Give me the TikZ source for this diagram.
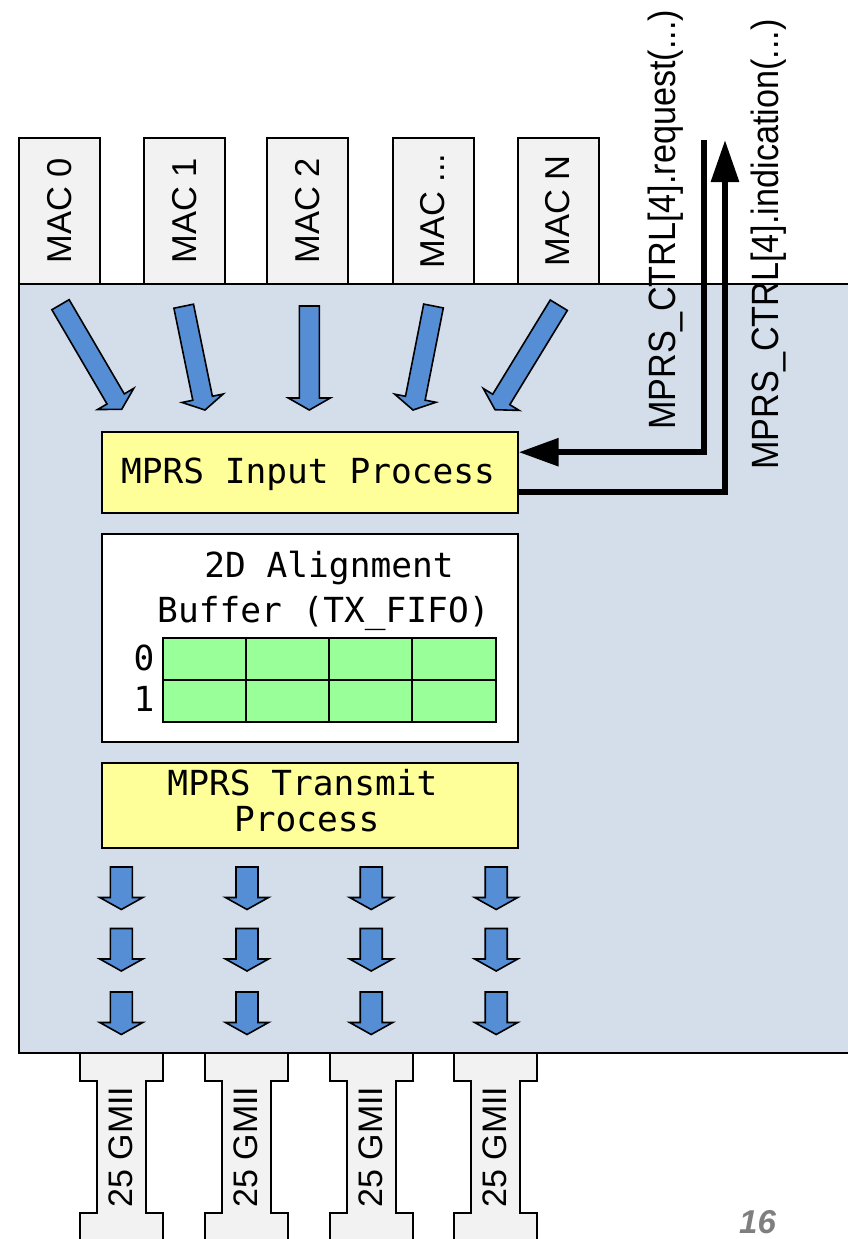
\documentclass[tikz,border=0pt]{standalone}
\usepackage{fontspec}
\setmainfont{Liberation Sans}
\newfontfamily\codefont{DejaVu Sans Mono}
\usetikzlibrary{arrows.meta,calc}

\definecolor{panelblue}{HTML}{D4DEEB}
\definecolor{arrowblue}{HTML}{558ED5}
\definecolor{boxgray}{HTML}{F2F2F2}
\definecolor{procyellow}{HTML}{FFFF99}
\definecolor{cellgreen}{HTML}{99FF99}
\definecolor{pagegray}{HTML}{7F7F7F}

% Block arrow: #1 half shaft width, #2 half head width, #3 tail point, #4 tip point
\newcommand\blockarrow[4]{%
  \coordinate (bahead) at ($#4!12pt!#3$);
  \draw[bluearrow] ($#3!#1pt!90:#4$) -- ($(bahead)!#1pt!90:#4$)
    -- ($(bahead)!#2pt!90:#4$) -- #4 -- ($(bahead)!#2pt!-90:#4$)
    -- ($(bahead)!#1pt!-90:#4$) -- ($#3!#1pt!-90:#4$) -- cycle;}

\begin{document}
\begin{tikzpicture}[x=1pt,y=-1pt,line join=miter,
  thin/.style={draw=black,line width=2pt},
  panel/.style={thin,fill=panelblue},
  macbox/.style={thin,fill=boxgray,minimum width=81pt,minimum height=146pt,inner sep=0pt,
    font=\fontsize{34.5}{40}\selectfont},
  procbox/.style={thin,fill=procyellow,minimum width=416pt,inner sep=0pt},
  bufbox/.style={thin,fill=white,minimum width=416pt,minimum height=207.7pt,inner sep=0pt},
  cell/.style={thin,fill=cellgreen},
  codetext/.style={inner sep=0pt,font=\codefont\fontsize{34.5}{42}\selectfont},
  bluearrow/.style={draw=black,line width=1.6pt,fill=arrowblue},
  gmiishape/.style={thin,fill=boxgray},
  sidelabel/.style={inner sep=0pt,font=\fontsize{34}{40}\selectfont},
  ctrllabel/.style={inner sep=0pt,rotate=90,anchor=base west,font=\fontsize{38}{44}\selectfont},
  ctrl/.style={draw=black,line width=6pt},
  pagenum/.style={inner sep=0pt,anchor=base,text=pagegray,
    font=\bfseries\itshape\fontsize{33}{40}\selectfont}]

\useasboundingbox (0,0) rectangle (848,1239);
\clip (0,0) rectangle (848,1239);
\fill[white] (0,0) rectangle (848,1239);

% sublayer panel (runs off the right edge)
\draw[panel] (19,284) rectangle (880,1053);

% MAC clients
\node[macbox] (mac0) at (59.5,211) {\rotatebox{90}{MAC 0}};
\node[macbox] (mac1) at (184.5,211) {\rotatebox{90}{MAC 1}};
\node[macbox] (mac2) at (307.5,211) {\rotatebox{90}{MAC 2}};
\node[macbox] (mac3) at (433,211) {\rotatebox{90}{MAC ...}};
\node[macbox] (macn) at (558,211) {\rotatebox{90}{MAC N}};

% MAC data flowing into the input process
\blockarrow{10}{21}{(60.5,304.7)}{(121.7,409.3)}
\blockarrow{10}{21}{(183.7,306.2)}{(205,410)}
\blockarrow{10}{21}{(309.3,306)}{(309.3,410)}
\blockarrow{10}{21}{(433.5,306)}{(413,410)}
\blockarrow{10}{21}{(558.8,305.2)}{(495,409.7)}

% input process
\node[procbox,minimum height=81pt] (inproc) at (309.7,472.2) {};
\node[codetext,anchor=base] (inproctext) at (308,483) {MPRS Input Process};

% alignment buffer
\node[bufbox] (buffer) at (309.7,637.9) {};
\node[codetext,anchor=base] (buftitle1) at (329,577) {2D Alignment};
\node[codetext,anchor=base] (buftitle2) at (323.4,622) {Buffer (TX\_FIFO)};
\foreach \i in {0,...,3} {
  \foreach \j in {0,1} {
    \draw[cell] (162.7+83.25*\i,638.3+41.7*\j) rectangle ++(83.25,41.7);
  }
}
\node[codetext,anchor=base] (row0) at (144,670) {0};
\node[codetext,anchor=base] (row1) at (144,711) {1};

% transmit process
\node[procbox,minimum height=84.4pt] (txproc) at (309.7,805.5) {};
\node[codetext,anchor=base] (txtext1) at (302.5,795) {MPRS Transmit};
\node[codetext,anchor=base] (txtext2) at (306.7,831) {Process};

% lane data flowing out
\foreach \x in {121.3,247,371.2,496.2} {
  \foreach \y in {867,928.5,992} {
    \blockarrow{11}{21.5}{(\x,\y)}{(\x,\y+42.5)}
  }
}

% 25GMII lanes
\foreach \i/\c in {0/121.5,1/246.5,2/371.5,3/495.5} {
  \draw[gmiishape] (\c-41.5,1053) -- (\c+41.5,1053) -- (\c+41.5,1081) -- (\c+24.5,1081)
    -- (\c+24.5,1213) -- (\c+41.5,1213) -- (\c+41.5,1250) -- (\c-41.5,1250)
    -- (\c-41.5,1213) -- (\c-24.5,1213) -- (\c-24.5,1081) -- (\c-41.5,1081) -- cycle;
  \node[sidelabel] (gmii\i) at (\c-1,1147) {\rotatebox{90}{25 GMII}};
}

% control primitives
\coordinate (reqtop) at (704,140);
\coordinate (indtop) at (725,140);
\draw[ctrl,-{Triangle[length=40pt,width=27pt]}] (reqtop) |- ([yshift=20pt]inproc.east);
\draw[ctrl,-{Triangle[length=42pt,width=27pt]}] ([yshift=-20pt]inproc.east) -| (indtop);
\node[ctrllabel] (reqlabel) at (675,430) {\scalebox{0.9}[1]{MPRS\_CTRL[4].request(...)}};
\node[ctrllabel] (indlabel) at (778,470) {\scalebox{0.9}[1]{MPRS\_CTRL[4].indication(...)}};

% page number
\node[pagenum] (page) at (757.5,1233) {16};
\end{tikzpicture}
\end{document}
